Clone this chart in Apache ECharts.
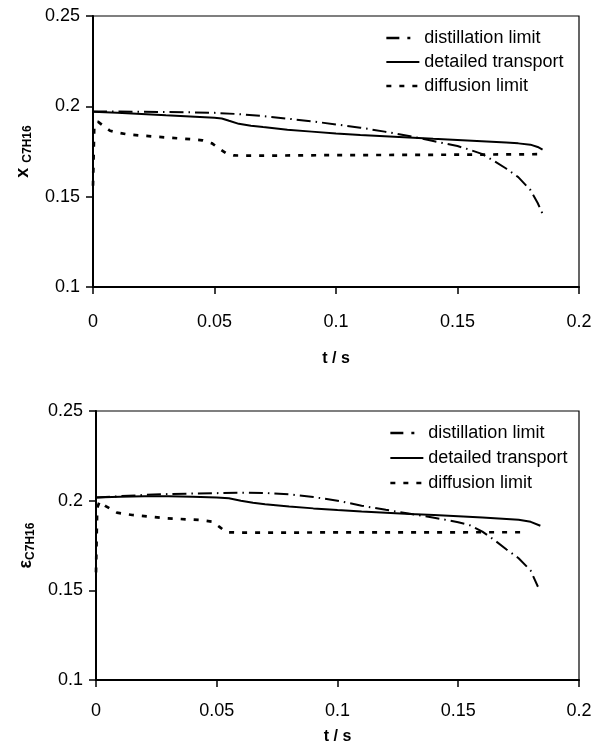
<!DOCTYPE html>
<html>
<head>
<meta charset="utf-8">
<script src="https://cdn.jsdelivr.net/npm/echarts@6/dist/echarts.min.js"></script>
<style>
html,body{margin:0;padding:0;background:#fff;}
#c{width:606px;height:755px;}
</style>
</head>
<body>
<div id="c"></div>
<script>
// ---------- data ----------
var seriesNames = ['distillation limit', 'detailed transport', 'diffusion limit'];
var xTicks = [0, 0.05, 0.1, 0.15, 0.2];
var yTicks = [0.1, 0.15, 0.2, 0.25];

// top panel: liquid mole fraction x_C7H16
var tTopDist = [0, 0.01, 0.02, 0.03, 0.04, 0.05, 0.06, 0.07, 0.08, 0.09, 0.1, 0.11, 0.12, 0.13, 0.14, 0.15, 0.155, 0.16, 0.165, 0.17, 0.175, 0.18, 0.183, 0.185];
var xTopDist = [0.1972, 0.1971, 0.1970, 0.1969, 0.1967, 0.1964, 0.1957, 0.1946, 0.1932, 0.1917, 0.1900, 0.1882, 0.1860, 0.1836, 0.1808, 0.1780, 0.1760, 0.1737, 0.1698, 0.1656, 0.1608, 0.1537, 0.1465, 0.1405];

var tTopDet = [0, 0.01, 0.02, 0.03, 0.04, 0.05, 0.053, 0.056, 0.06, 0.065, 0.07, 0.08, 0.09, 0.1, 0.11, 0.12, 0.13, 0.14, 0.15, 0.16, 0.17, 0.175, 0.18, 0.183, 0.185];
var xTopDet = [0.1970, 0.1964, 0.1957, 0.1950, 0.1944, 0.1937, 0.1933, 0.1920, 0.1903, 0.1893, 0.1885, 0.1870, 0.1860, 0.1850, 0.1841, 0.1834, 0.1827, 0.1820, 0.1814, 0.1807, 0.1800, 0.1795, 0.1788, 0.1775, 0.1760];

var tTopDiff = [0, 0.0005, 0.002, 0.004, 0.007, 0.01, 0.014, 0.02, 0.03, 0.04, 0.045, 0.049, 0.052, 0.055, 0.058, 0.07, 0.1, 0.13, 0.16, 0.183];
var xTopDiff = [0.156, 0.188, 0.1915, 0.1895, 0.1865, 0.1855, 0.1845, 0.1838, 0.1828, 0.1818, 0.1812, 0.1795, 0.1765, 0.1738, 0.1728, 0.1727, 0.1730, 0.1731, 0.1733, 0.1735];

// bottom panel: epsilon_C7H16
var tBotDist = [0, 0.01, 0.02, 0.03, 0.04, 0.05, 0.06, 0.07, 0.08, 0.09, 0.1, 0.11, 0.12, 0.13, 0.14, 0.15, 0.155, 0.16, 0.165, 0.17, 0.175, 0.18, 0.183];
var eBotDist = [0.2017, 0.2025, 0.2032, 0.2037, 0.2040, 0.2042, 0.2044, 0.2043, 0.2035, 0.2020, 0.2000, 0.1972, 0.1949, 0.1927, 0.1905, 0.1880, 0.1862, 0.1827, 0.1780, 0.1728, 0.1679, 0.1610, 0.1520];

var tBotDet = [0, 0.01, 0.02, 0.03, 0.04, 0.05, 0.055, 0.06, 0.065, 0.07, 0.08, 0.09, 0.1, 0.11, 0.12, 0.13, 0.14, 0.15, 0.16, 0.17, 0.175, 0.18, 0.184];
var eBotDet = [0.2017, 0.2022, 0.2025, 0.2025, 0.2022, 0.2018, 0.2013, 0.2000, 0.1988, 0.1980, 0.1968, 0.1957, 0.1948, 0.1940, 0.1933, 0.1926, 0.1920, 0.1913, 0.1906, 0.1898, 0.1893, 0.1882, 0.1860];

var tBotDiff = [0, 0.0005, 0.0015, 0.004, 0.0087, 0.015, 0.029, 0.043, 0.048, 0.051, 0.054, 0.06, 0.08, 0.1, 0.13, 0.16, 0.1785];
var eBotDiff = [0.160, 0.196, 0.1995, 0.1970, 0.1933, 0.1920, 0.1902, 0.1892, 0.1883, 0.1855, 0.1824, 0.1822, 0.1822, 0.1823, 0.1823, 0.1824, 0.1824];

// ---------- helpers ----------
function pairs(t, v) { return t.map(function (x, i) { return [x, v[i]]; }); }
var FONT = 'Liberation Sans, Arial, sans-serif';
var styles = [
  { type: [14, 5, 1.5, 5], width: 2 },
  { type: 'solid', width: 2 },
  { type: [5, 8], width: 2.7 }
];
var legendTypes = [[13, 8, 3, 20], 'solid', [5, 8]];

function mkX(gi, labelMargin, nameGap) {
  return {
    type: 'value', gridIndex: gi, min: xTicks[0], max: xTicks[xTicks.length - 1], interval: 0.05,
    axisLine: { show: true, onZero: false, lineStyle: { color: '#000', width: 2 } },
    axisTick: { show: true, length: 7, lineStyle: { color: '#000', width: 1.5 } },
    axisLabel: { color: '#000', fontSize: 18, fontFamily: FONT, margin: labelMargin },
    splitLine: { show: false },
    name: 't / s', nameLocation: 'middle', nameGap: nameGap,
    nameTextStyle: { color: '#000', fontSize: 16, fontWeight: 'bold', fontFamily: FONT }
  };
}
function mkY(gi, nameMain) {
  return {
    type: 'value', gridIndex: gi, min: yTicks[0], max: yTicks[yTicks.length - 1], interval: 0.05,
    axisLine: { show: true, onZero: false, lineStyle: { color: '#000', width: 2 } },
    axisTick: { show: true, length: 7, lineStyle: { color: '#000', width: 1.5 } },
    axisLabel: { color: '#000', fontSize: 18, fontFamily: FONT, margin: 13 },
    splitLine: { show: false },
    name: '{b|' + nameMain + '}{s|C7H16}', nameLocation: 'middle', nameRotate: 90, nameGap: 58,
    nameTextStyle: {
      color: '#000', fontFamily: FONT,
      rich: {
        b: { fontSize: 18, fontWeight: 'bold', fontFamily: FONT, color: '#000', lineHeight: 22, verticalAlign: 'middle' },
        s: { fontSize: 12, fontWeight: 'bold', fontFamily: FONT, color: '#000', lineHeight: 14, verticalAlign: 'bottom', padding: [8, 0, 0, 0] }
      }
    }
  };
}
function mkSeries(xi, t3, v3) {
  return seriesNames.map(function (n, i) {
    return {
      name: n, type: 'line', xAxisIndex: xi, yAxisIndex: xi,
      data: pairs(t3[i], v3[i]), showSymbol: false, symbol: 'circle', smooth: false,
      lineStyle: { color: '#000', width: styles[i].width, type: styles[i].type },
      itemStyle: { color: '#000' }, animation: false, z: 3 - i
    };
  });
}
function mkLegend(left, top, gap) {
  return {
    orient: 'vertical', left: left, top: top, itemWidth: 33, itemHeight: 18, itemGap: gap,
    itemStyle: { opacity: 0, borderWidth: 0 },
    textStyle: { color: '#000', fontSize: 18, fontFamily: FONT },
    data: seriesNames.map(function (n, i) {
      return { name: n, lineStyle: { color: '#000', width: i === 1 ? 2 : 2.7, type: legendTypes[i] }, itemStyle: { opacity: 0 } };
    })
  };
}

var chart = echarts.init(document.getElementById('c'), null, { renderer: 'canvas' });
var s1 = mkSeries(0, [tTopDist, tTopDet, tTopDiff], [xTopDist, xTopDet, xTopDiff]);
var s2 = mkSeries(1, [tBotDist, tBotDet, tBotDiff], [eBotDist, eBotDet, eBotDiff]);
chart.setOption({
  backgroundColor: '#fff',
  animation: false,
  grid: [
    { left: 93, top: 16, width: 486, height: 271, show: true, borderColor: '#000', borderWidth: 1.2, backgroundColor: 'transparent' },
    { left: 96, top: 411, width: 483, height: 269, show: true, borderColor: '#000', borderWidth: 1.2, backgroundColor: 'transparent' }
  ],
  xAxis: [mkX(0, 26, 64), mkX(1, 22, 49)],
  yAxis: [mkY(0, 'x '), mkY(1, 'ε')],
  legend: [mkLegend(380, 24, 6), mkLegend(384, 419, 7)],
  series: s1.concat(s2)
});
</script>
</body>
</html>
